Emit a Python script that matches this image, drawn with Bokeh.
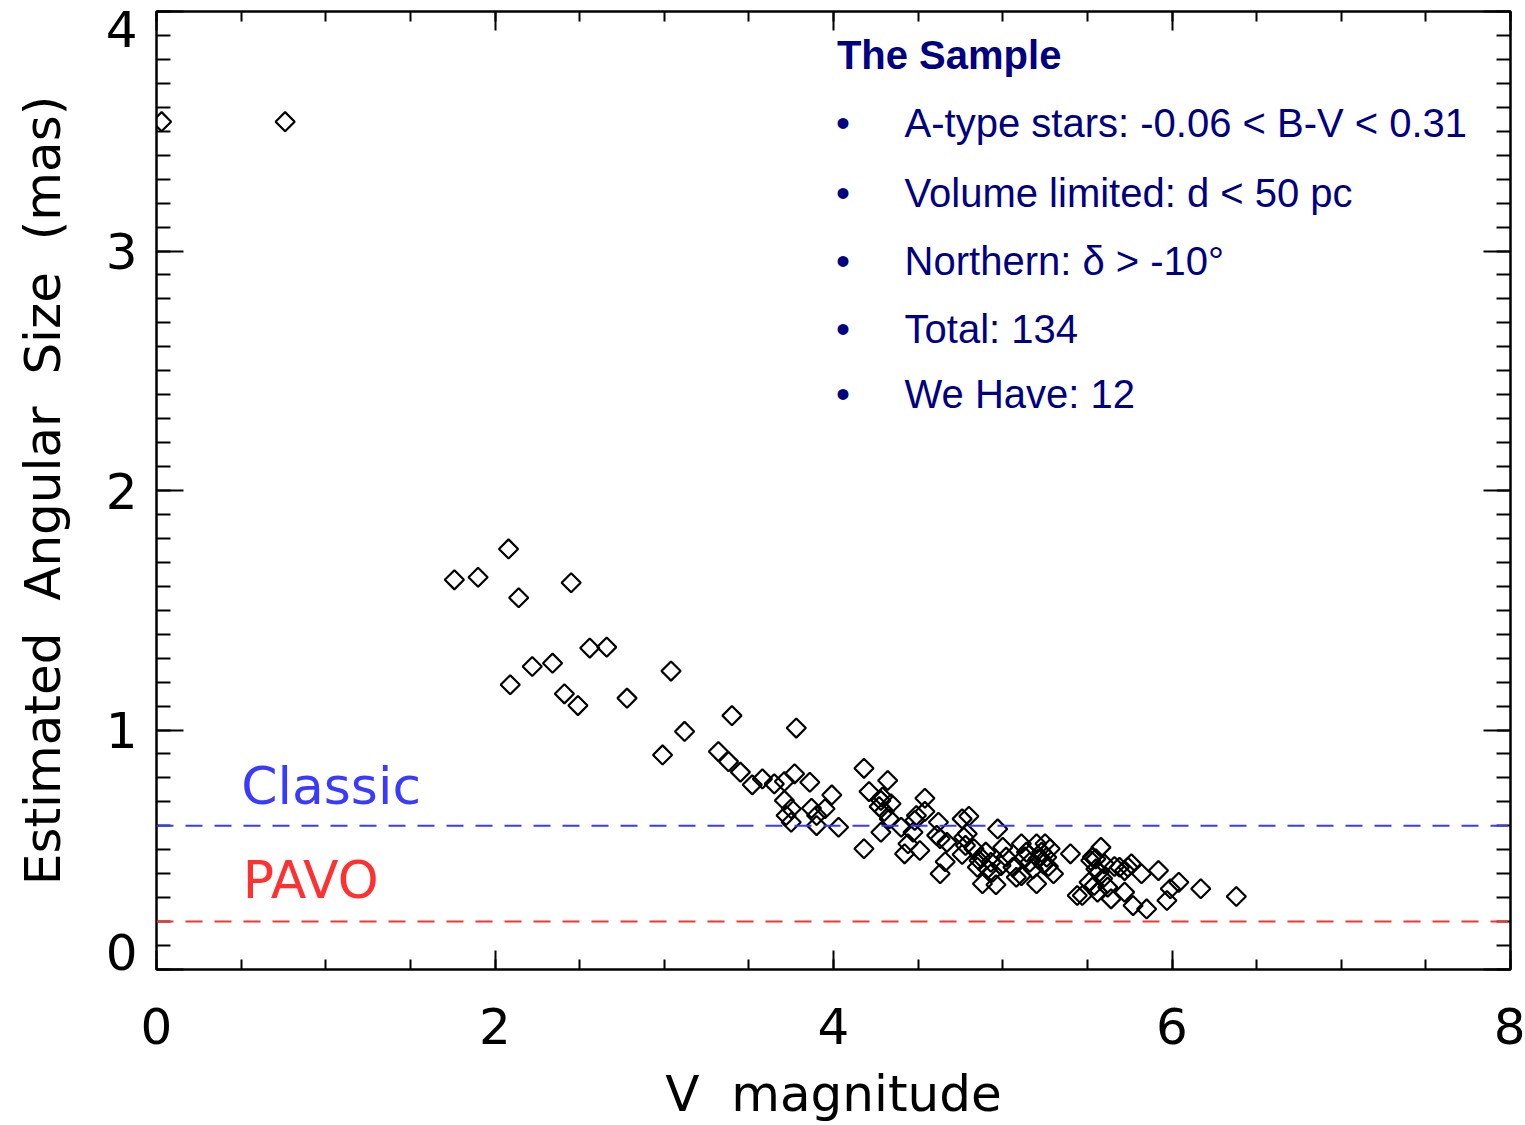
from bokeh.plotting import figure
from bokeh.models import (Span, Label, LinearAxis, SingleIntervalTicker, FixedTicker,
                          Range1d, ColumnDataSource)
from bokeh.embed import file_html
from bokeh.resources import INLINE
import numpy as np

# ---------------- data ----------------
v_mag = [
    0.03, 0.76,
    1.76, 1.90, 2.08, 2.14, 2.45, 2.56, 2.66, 2.22, 2.34, 2.09, 2.41, 2.49, 2.78, 3.04, 3.12, 2.99,
    3.40, 3.78, 3.32, 3.38, 3.45, 3.52, 3.58, 3.65, 3.71, 3.77, 3.86, 3.71, 3.99, 3.75, 3.72, 3.87,
    3.95, 3.90, 3.75, 3.90, 4.03,
    4.18, 4.21, 4.32, 4.28, 4.34, 4.27, 4.29, 4.33, 4.28, 4.18, 4.40, 4.47, 4.54, 4.54, 4.49, 4.48,
    4.44, 4.42, 4.51, 4.62, 4.61, 4.63, 4.67, 4.66, 4.63, 4.76, 4.80, 4.77, 4.79, 4.78, 4.76,
    4.97, 4.83, 4.87, 4.90, 4.85, 4.93, 4.94, 4.88, 4.96, 5.00, 5.02, 4.99, 5.06, 5.11, 5.11, 5.08,
    5.14, 5.16, 5.20, 5.25, 5.21, 5.26, 5.28, 5.30, 5.20, 5.40, 5.44, 4.91, 5.23, 5.24, 4.86, 5.18,
    5.27,
    5.58, 5.52, 5.55, 5.60, 5.57, 5.69, 5.74, 5.76, 5.72, 5.82, 5.92, 5.51, 5.54, 5.47, 5.56, 5.62,
    5.64, 5.72, 5.77, 5.85, 5.99, 6.04, 5.97, 6.17, 6.38, 5.53, 5.66, 5.59,
    4.30, 5.13, 5.55,
]
ang_size = [
    3.54, 3.54,
    1.627, 1.638, 1.756, 1.552, 1.615, 1.342, 1.346, 1.265, 1.279, 1.189, 1.151, 1.102, 1.133, 1.246, 0.994, 0.896,
    1.06, 1.008, 0.91, 0.868, 0.824, 0.771, 0.796, 0.775, 0.785, 0.817, 0.782, 0.706, 0.729, 0.671, 0.643, 0.673,
    0.671, 0.643, 0.615, 0.601, 0.594,
    0.84, 0.743, 0.789, 0.706, 0.692, 0.68, 0.72, 0.629, 0.573, 0.504, 0.594, 0.573, 0.715, 0.66, 0.643, 0.622,
    0.525, 0.483, 0.497, 0.615, 0.56, 0.546, 0.531, 0.45, 0.40, 0.629, 0.64, 0.552, 0.567, 0.518, 0.48,
    0.587, 0.504, 0.469, 0.49, 0.427, 0.448, 0.406, 0.358, 0.354, 0.51, 0.469, 0.434, 0.427, 0.525, 0.392, 0.385,
    0.49, 0.448, 0.525, 0.525, 0.462, 0.469, 0.504, 0.40, 0.358, 0.483, 0.309, 0.42, 0.49, 0.44, 0.455, 0.42,
    0.43,
    0.51, 0.455, 0.462, 0.441, 0.406, 0.427, 0.427, 0.441, 0.413, 0.40, 0.413, 0.364, 0.351, 0.309, 0.323, 0.344,
    0.295, 0.323, 0.267, 0.253, 0.337, 0.364, 0.288, 0.337, 0.305, 0.47, 0.43, 0.38,
    0.66, 0.47, 0.42,
]
classic_limit = 0.6
pavo_limit = 0.2
x_ticks = [0, 2, 4, 6, 8]
y_ticks = [0, 1, 2, 3, 4]
y_tick_labels = ["0", "1", "2", "3", "4"]
sample_title = "The Sample"
sample_items = [
    "A-type stars: -0.06 < B-V < 0.31",
    "Volume limited: d < 50 pc",
    "Northern: \u03b4 > -10\u00b0",
    "Total: 134",
    "We Have: 12",
]

# ---------------- figure ----------------
FONT = "DejaVu Sans"
NB = "\u00a0\u00a0"
p = figure(width=1525, height=1125, output_backend="svg", toolbar_location=None,
           x_range=Range1d(0, 8), y_range=Range1d(0, 4),
           min_border_left=156, min_border_right=15, min_border_top=11, min_border_bottom=156,
           background_fill_color="white", border_fill_color="white")
p.grid.visible = False
p.outline_line_color = "black"
p.outline_line_width = 2

xa = p.xaxis[0]
xa.ticker = SingleIntervalTicker(interval=2, num_minor_ticks=4)
xa.axis_label = "V" + NB + "magnitude"
ya = p.yaxis[0]
ya.ticker = SingleIntervalTicker(interval=1, num_minor_ticks=10)

for ax, tin, tmin in ((xa, 19, 10), (ya, 27, 14)):
    ax.major_tick_in = tin
    ax.major_tick_out = 0
    ax.minor_tick_in = tmin
    ax.minor_tick_out = 0
    ax.axis_line_width = 2
    ax.major_tick_line_width = 2
    ax.minor_tick_line_width = 2

xa.major_label_text_font = FONT
xa.major_label_text_color = "black"
xa.major_label_text_font_size = "50px"
xa.major_label_standoff = 38
xa.axis_label_text_font = FONT
xa.axis_label_text_font_style = "normal"
xa.axis_label_text_color = "black"
xa.axis_label_text_font_size = "50px"
xa.axis_label_standoff = 18

# left axis carrying only ticks
ya.major_label_text_font_size = "1px"
ya.major_label_text_color = None
ya.major_label_standoff = 0

# second left axis carrying the labels (end labels nudged inside like the original)
px_per_unit = 239.5
label_pos = [y_ticks[0] + 18 / px_per_unit, y_ticks[1], y_ticks[2], y_ticks[3],
             y_ticks[4] - 17 / px_per_unit]
ylab = LinearAxis(ticker=FixedTicker(ticks=label_pos, minor_ticks=[]),
                  major_label_overrides={pos: lab for pos, lab in zip(label_pos, y_tick_labels)},
                  axis_line_color=None, major_tick_line_color=None, minor_tick_line_color=None,
                  major_tick_in=0, major_tick_out=0, minor_tick_in=0, minor_tick_out=0,
                  major_label_text_font=FONT, major_label_text_font_size="50px",
                  major_label_text_color="black", major_label_standoff=19,
                  axis_label="Estimated" + NB + "Angular" + NB + "Size" + NB + "(mas)",
                  axis_label_text_font=FONT, axis_label_text_font_style="normal",
                  axis_label_text_font_size="50px", axis_label_text_color="black",
                  axis_label_standoff=31)
p.add_layout(ylab, "left")

# mirrored axes (ticks only)
top = LinearAxis(ticker=SingleIntervalTicker(interval=2, num_minor_ticks=4),
                 major_label_text_font_size="1px", major_label_text_color=None,
                 major_tick_in=19, major_tick_out=0,
                 minor_tick_in=10, minor_tick_out=0, axis_line_width=2,
                 major_tick_line_width=2, minor_tick_line_width=2, major_label_standoff=0)
right = LinearAxis(ticker=SingleIntervalTicker(interval=1, num_minor_ticks=10),
                   major_label_text_font_size="1px", major_label_text_color=None,
                   major_tick_in=27, major_tick_out=0,
                   minor_tick_in=14, minor_tick_out=0, axis_line_width=2,
                   major_tick_line_width=2, minor_tick_line_width=2, major_label_standoff=0)
p.add_layout(top, "above")
p.add_layout(right, "right")

# threshold lines
BLUE = "#3a3aff"
RED = "#ff3030"
p.add_layout(Span(location=classic_limit, dimension="width", line_color=BLUE,
                  line_dash="17 12", line_width=2))
p.add_layout(Span(location=pavo_limit, dimension="width", line_color=RED,
                  line_dash="17 12", line_width=2))

p.add_layout(Label(x=0.50, y=0.768, text="Classic", text_font=FONT, text_font_size="52px",
                   text_color=BLUE, text_baseline="alphabetic"))
p.add_layout(Label(x=0.51, y=0.372, text="PAVO", text_font=FONT, text_font_size="52px",
                   text_color=RED, text_baseline="alphabetic"))

# data
src = ColumnDataSource(dict(x=v_mag, y=ang_size))
p.scatter("x", "y", source=src, marker="square", angle=np.pi / 4, size=13.5,
          fill_color=None, line_color="black", line_width=2.2)

# sample description
NAVY = "#000080"
p.add_layout(Label(x=4.02, y=3.82, text=sample_title, text_font="Liberation Sans",
                   text_font_style="bold", text_font_size="40px", text_color=NAVY,
                   text_baseline="alphabetic"))
item_y = [3.534, 3.242, 2.958, 2.674, 2.402]
for yy, txt in zip(item_y, sample_items):
    p.add_layout(Label(x=4.015, y=yy, text="\u2022", text_font="Liberation Sans",
                       text_font_size="40px", text_color=NAVY, text_baseline="alphabetic"))
    p.add_layout(Label(x=4.42, y=yy, text=txt, text_font="Liberation Sans",
                       text_font_size="40px", text_color=NAVY, text_baseline="alphabetic"))

open("out.html", "w").write(file_html(p, INLINE))
